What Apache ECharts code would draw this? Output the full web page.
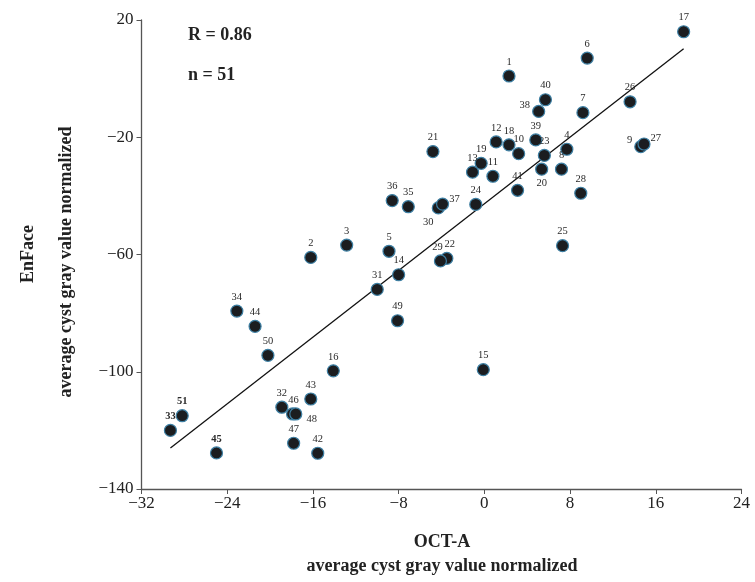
<!DOCTYPE html>
<html>
<head>
<meta charset="utf-8">
<script src="https://cdn.jsdelivr.net/npm/echarts@6/dist/echarts.min.js"></script>
<style>html,body{margin:0;padding:0;background:#fff}#c{width:755px;height:582px}</style>
</head>
<body>
<div id="c"></div>
<script>
// ---- data ----
var pointIds = ['1','2','3','4','5','6','7','8','9','10','11','12','13','14','15','16','17','18','19','20','21','22','23','24','25','26','27','28','29','30','31','32','33','34','35','36','37','38','39','40','41','42','43','44','45','46','47','48','49','50','51'];
var octA = [2.3,-16.2,-12.85,7.7,-8.9,9.6,9.2,7.2,14.6,3.2,0.8,1.1,-1.1,-8.0,-0.1,-14.1,18.6,2.3,-0.3,5.35,-4.8,-3.5,5.6,-0.8,7.3,13.6,14.9,9.0,-4.1,-4.3,-10.0,-18.9,-29.3,-23.1,-7.1,-8.6,-3.9,5.07,4.8,5.7,3.1,-15.55,-16.2,-21.4,-25.0,-17.9,-17.8,-17.6,-8.1,-20.2,-28.2];
var enFace = [0.9,-61.0,-56.8,-24.1,-58.9,7.0,-11.6,-30.9,-23.2,-25.6,-33.3,-21.6,-31.9,-66.9,-99.3,-99.7,16.0,-22.6,-28.9,-30.9,-24.9,-61.3,-26.2,-42.9,-57.0,-7.9,-22.3,-39.1,-62.2,-44.1,-71.9,-112.1,-120.0,-79.3,-43.7,-41.6,-42.8,-11.2,-20.9,-7.2,-38.1,-127.8,-109.3,-84.5,-127.7,-114.4,-124.4,-114.4,-82.6,-94.4,-115.0];
var fitX = [-29.3, 18.6];
var fitY = [-126.0, 10.2];
var xTicks = [-32,-24,-16,-8,0,8,16,24];
var yTicks = [-140,-100,-60,-20,20];
var statR = 'R = 0.86';
var statN = 'n = 51';
var xTitle1 = 'OCT-A', xTitle2 = 'average cyst gray value normalized';
var yTitle1 = 'EnFace', yTitle2 = 'average cyst gray value normalized';

// ---- label placement exceptions (style only) ----
var labelStyle = {
  '9': {position:'left', offset:[0,-6]},
  '27': {position:'right', offset:[-2,-6]},
  '20': {position:'bottom'},
  '30': {position:'bottom', offset:[-10,0]},
  '37': {position:'right', offset:[-2,-5]},
  '38': {position:'left', offset:[0,-6]},
  '48': {position:'right', offset:[2,5]},
  '29': {position:'top', offset:[-3,0]},
  '22': {position:'top', offset:[3,0]},
  '46': {position:'top', offset:[1,0]},
  '51': {fontWeight:'bold'},
  '33': {fontWeight:'bold'},
  '45': {fontWeight:'bold'}
};

var serif = '"Liberation Serif", "DejaVu Serif", serif';
var pts = pointIds.map(function(id, i){
  var o = {value:[octA[i], enFace[i]], name:id};
  if (labelStyle[id]) o.label = labelStyle[id];
  return o;
});
var fitLine = fitX.map(function(x,i){ return [x, fitY[i]]; });
function minus(v){ return String(v).replace('-', '\u2212'); }

var chart = echarts.init(document.getElementById('c'));
chart.setOption({
  animation:false,
  backgroundColor:'#fff',
  grid:{left:141.5, right:13.5, top:20, bottom:93, containLabel:false},
  xAxis:{type:'value', min:xTicks[0], max:xTicks[xTicks.length-1], interval:8,
    splitLine:{show:false},
    axisLine:{onZero:false, lineStyle:{color:'#555', width:1.3}},
    axisTick:{show:true, length:5, lineStyle:{color:'#555'}},
    axisLabel:{fontFamily:serif, fontSize:17, color:'#222', margin:6, formatter:minus}},
  yAxis:{type:'value', min:yTicks[0], max:yTicks[yTicks.length-1], interval:40,
    splitLine:{show:false},
    axisLine:{show:true, onZero:false, lineStyle:{color:'#555', width:1.3}},
    axisTick:{show:true, length:5, lineStyle:{color:'#555'}},
    axisLabel:{fontFamily:serif, fontSize:17, color:'#222', margin:8, formatter:minus}},
  series:[
    {type:'line', data:fitLine, symbol:'none', silent:true,
      lineStyle:{color:'#111', width:1.3}, z:1},
    {type:'scatter', data:pts, symbol:'circle', symbolSize:12, z:3,
      itemStyle:{color:'#1b1d20', borderColor:'#3d7fa3', borderWidth:1.2, opacity:1},
      label:{show:true, position:'top', distance:2, formatter:'{b}',
        fontFamily:serif, fontSize:10.5, color:'#2a2a2a'}}
  ],
  graphic:[
    {type:'text', left:188, top:26, style:{text:statR, font:'bold 18px '+serif, fill:'#222'}},
    {type:'text', left:188, top:66, style:{text:statN, font:'bold 18px '+serif, fill:'#222'}},
    {type:'text', x:442, y:542, style:{text:xTitle1, font:'bold 18px '+serif, fill:'#222', textAlign:'center', textVerticalAlign:'middle'}},
    {type:'text', x:442, y:566, style:{text:xTitle2, font:'bold 18px '+serif, fill:'#222', textAlign:'center', textVerticalAlign:'middle'}},
    {type:'text', x:28, y:254, rotation:Math.PI/2, style:{text:yTitle1, font:'bold 18px '+serif, fill:'#222', textAlign:'center', textVerticalAlign:'middle'}},
    {type:'text', x:66, y:262, rotation:Math.PI/2, style:{text:yTitle2, font:'bold 18px '+serif, fill:'#222', textAlign:'center', textVerticalAlign:'middle'}}
  ]
});
</script>
</body>
</html>
